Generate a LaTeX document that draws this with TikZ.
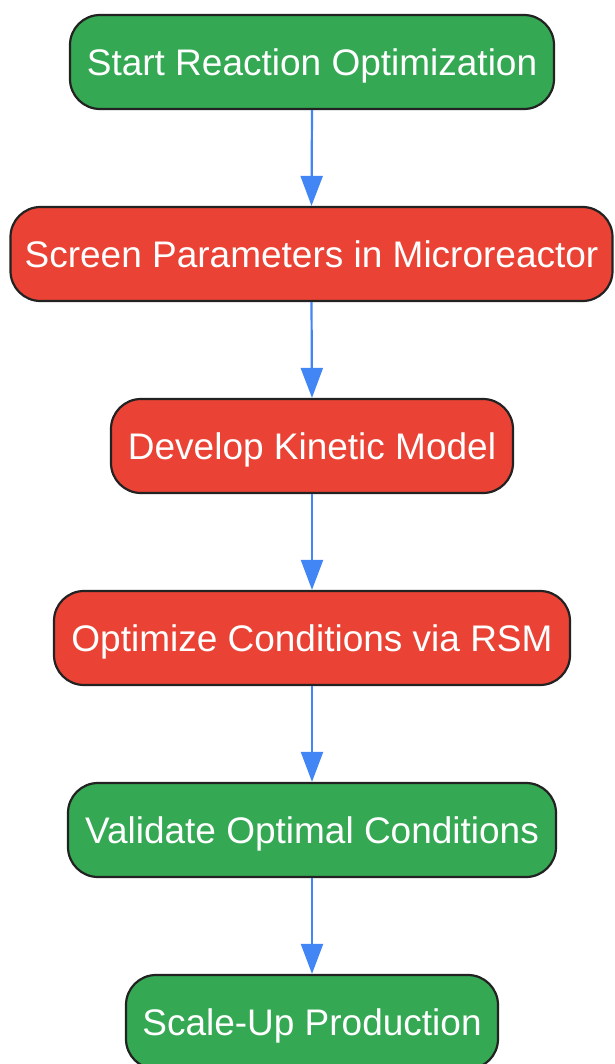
\documentclass[tikz,border=0pt]{standalone}
\usepackage{fontspec}
\setmainfont{Liberation Sans}
\usetikzlibrary{arrows.meta}
\definecolor{gstep}{HTML}{34A853}
\definecolor{rstep}{HTML}{EA4335}
\definecolor{edgeblue}{HTML}{4285F4}
\definecolor{bord}{HTML}{222222}
\tikzset{
  stepbox/.style={draw=bord, line width=2.2pt, rounded corners=30pt, minimum height=94pt,
    inner xsep=10pt, inner ysep=0pt, text height=31pt, text depth=4pt,
    text=white, font=\fontsize{37}{40}\selectfont, anchor=center},
  greenbox/.style={stepbox, fill=gstep},
  redbox/.style={stepbox, fill=rstep},
  flow/.style={draw=edgeblue, line width=2.2pt, -{Triangle[length=30pt,width=22pt]}}
}
\begin{document}
\begin{tikzpicture}[x=1pt,y=1pt]
\useasboundingbox (0,0) rectangle (614,-1064);
\node[greenbox, minimum width=484pt] (n1) at (312,-62) {Start Reaction Optimization};
\node[redbox, minimum width=602pt] (n2) at (311.5,-254) {Screen Parameters in Microreactor};
\node[redbox, minimum width=402pt] (n3) at (312,-446) {Develop Kinetic Model};
\node[redbox, minimum width=516pt] (n4) at (312,-638) {Optimize Conditions via RSM};
\node[greenbox, minimum width=488pt] (n5) at (312,-830) {Validate Optimal Conditions};
\node[greenbox, minimum width=372pt] (n6) at (312,-1022) {Scale-Up Production};
\draw[flow] (n1.south) -- (n2.north);
\draw[flow] (n2.south) -- (n3.north);
\draw[flow] (n3.south) -- (n4.north);
\draw[flow] (n4.south) -- (n5.north);
\draw[flow] (n5.south) -- (n6.north);
\end{tikzpicture}
\end{document}
